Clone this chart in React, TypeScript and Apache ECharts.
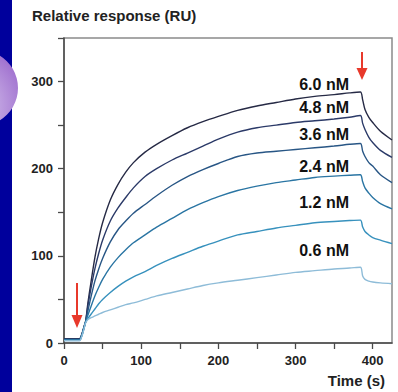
import React, { useEffect, useRef } from "react";
import * as echarts from "echarts";

const times = [0, 20, 23, 26, 28, 31, 35, 40, 45, 50, 60, 70, 80, 90, 105, 120, 140, 160, 180, 200, 225, 250, 275, 300, 325, 350, 370, 384, 387, 390, 395, 400, 410, 425];
const r60 = [5, 5, 10, 19, 25, 46, 70, 98, 120, 138, 164, 182, 196, 207, 219, 228, 238, 247, 254, 260, 267, 272, 276, 280, 283, 285, 287, 288, 279, 268, 259, 253, 243, 233];
const r48 = [4.5, 4.5, 9.5, 18.5, 24.5, 43, 63, 85, 103, 118, 140, 155, 167, 178, 191, 200, 210, 218, 226, 234, 242, 247, 250, 253, 255, 257, 259, 261, 252, 245, 236, 230, 221, 213];
const r36 = [4, 4, 9, 18, 24, 37, 53, 71, 85, 97, 116, 130, 140, 149, 159, 169, 181, 191, 199, 206, 214, 218, 220, 222, 224, 226, 228, 229, 220, 214, 207, 203, 193, 184];
const r24 = [3.5, 3.5, 8.5, 17.5, 24, 32, 42, 54, 64, 73, 87, 98, 107, 115, 124, 133, 143, 153, 161, 168, 175, 180, 184, 187, 190, 191.5, 192.5, 193, 185, 178, 172, 167, 160, 154];
const r12 = [3, 3, 8, 17, 24, 28, 33, 39, 45, 50, 58, 65, 71, 76, 82, 89, 97, 104, 111, 117, 124, 128, 132, 135, 138, 139.5, 140.5, 141, 133, 128, 124, 121, 118, 114];
const r06 = [2.5, 2.5, 7.5, 16.5, 23, 27, 29, 31, 33, 35, 38, 41, 44, 46, 50, 54, 58, 62, 66, 69, 72, 75, 78, 81, 83, 85, 86, 87, 77, 73, 71, 70, 69, 68];

const seriesNames = ["6.0 nM", "4.8 nM", "3.6 nM", "2.4 nM", "1.2 nM", "0.6 nM"];
const seriesData = [r60, r48, r36, r24, r12, r06];
const seriesColors = ["#262a45", "#2b3a68", "#285685", "#2a75a3", "#3791bd", "#8ebcd8"];
const labelY = [84, 107, 134, 166, 202, 250];

const xTicks = [0, 50, 100, 150, 200, 250, 300, 350, 400];
const xLabels = [0, 100, 200, 300, 400];
const yTicks = [0, 50, 100, 150, 200, 250, 300, 350];
const yLabels = [0, 100, 200, 300];

const FONT = "'Liberation Sans', Arial, sans-serif";

export default function App() {
  const ref = useRef<HTMLDivElement>(null);
  useEffect(() => {
    if (!ref.current) return;
    const chart = echarts.init(ref.current, undefined, { renderer: "svg" });
    const red = "#e8392b";
    chart.setOption({
      animation: false,
      backgroundColor: "#ffffff",
      grid: {
        left: 64,
        right: 6,
        top: 38,
        bottom: 49,
        show: true,
        borderColor: "#8a8a8a",
        borderWidth: 1.5,
        backgroundColor: "transparent",
      },
      xAxis: {
        type: "value",
        min: 0,
        max: 425,
        axisLine: { show: true, onZero: false, lineStyle: { color: "#4a4a4a", width: 1.5 } },
        axisTick: { show: true, length: 6, customValues: xTicks, lineStyle: { color: "#4a4a4a", width: 1.3 } },
        axisLabel: {
          customValues: xLabels,
          margin: 11,
          color: "#222",
          fontWeight: "bold",
          fontSize: 13,
          fontFamily: FONT,
        },
        splitLine: { show: false },
      },
      yAxis: {
        type: "value",
        min: 0,
        max: 350,
        axisLine: { show: true, onZero: false, lineStyle: { color: "#4a4a4a", width: 1.5 } },
        axisTick: { show: true, length: 6, customValues: yTicks, lineStyle: { color: "#4a4a4a", width: 1.3 } },
        axisLabel: {
          customValues: yLabels,
          margin: 11,
          color: "#222",
          fontWeight: "bold",
          fontSize: 13,
          fontFamily: FONT,
        },
        splitLine: { show: false },
      },
      series: seriesNames.map((name, i) => ({
        name,
        type: "line",
        data: times.map((t, j) => [t, seriesData[i][j]]),
        showSymbol: false,
        smooth: 0.3,
        lineStyle: { color: seriesColors[i], width: 1.4 },
        z: 2 + i,
      })),
      graphic: [
        { type: "rect", shape: { x: 0, y: 0, width: 12, height: 392 }, style: { fill: "#00009c" }, z: 100 },
        {
          type: "circle",
          shape: { cx: -20, cy: 88, r: 38 },
          style: {
            fill: new echarts.graphic.RadialGradient(0.3, 0.75, 0.9, [
              { offset: 0, color: "#e4d8f4" },
              { offset: 1, color: "#9a68cc" },
            ]),
          },
          z: 101,
        },
        {
          type: "text",
          x: 32,
          y: 8,
          style: { text: "Relative response (RU)", font: `bold 15px ${FONT}`, fill: "#222" },
          z: 100,
        },
        {
          type: "text",
          x: 385,
          y: 373,
          style: { text: "Time (s)", font: `bold 15px ${FONT}`, fill: "#222", align: "right" },
          z: 100,
        },
        ...seriesNames.map((name, i) => ({
          type: "text",
          x: 349,
          y: labelY[i],
          style: {
            text: name,
            font: `bold 16px ${FONT}`,
            fill: "#111",
            align: "right",
            verticalAlign: "middle",
          },
          z: 100,
        })),
        { type: "line", shape: { x1: 77, y1: 283, x2: 77, y2: 318 }, style: { stroke: red, lineWidth: 2 }, z: 100 },
        { type: "polygon", shape: { points: [[71.5, 315], [82.5, 315], [77, 328]] }, style: { fill: red }, z: 100 },
        { type: "line", shape: { x1: 362, y1: 52, x2: 362, y2: 70 }, style: { stroke: red, lineWidth: 2 }, z: 100 },
        { type: "polygon", shape: { points: [[356.5, 68], [367.5, 68], [362, 80]] }, style: { fill: red }, z: 100 },
      ],
    });
    return () => chart.dispose();
  }, []);
  return <div ref={ref} style={{ position: "fixed", left: 0, top: 0, width: 398, height: 392 }} />;
}
